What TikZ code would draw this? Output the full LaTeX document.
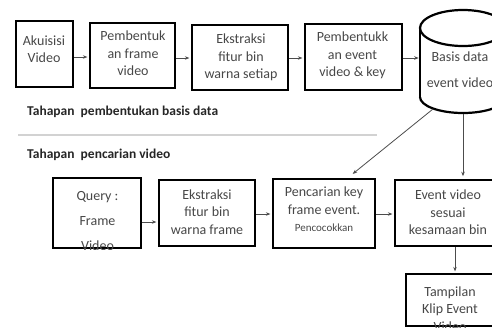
\documentclass[tikz,border=0pt]{standalone}
\usepackage{fontspec}
\setmainfont{Carlito}
\usetikzlibrary{arrows.meta}
\newcommand{\smalltxt}{\fontsize{11}{13}\selectfont}
\begin{document}
\begin{tikzpicture}[x=1pt,y=-1pt,
  box/.style={draw=black, line width=2.6pt, inner sep=0pt},
  txt/.style={text=black!72, font=\fontsize{14}{17.5}\selectfont, align=center, inner sep=0pt},
  arr/.style={draw=black!70, line width=0.8pt, -{Stealth[length=4.5pt,width=3.5pt]}, shorten >=1.3pt},
  lab/.style={font=\bfseries\fontsize{13.5}{16}\selectfont, text=black!85, anchor=west, inner sep=0pt},
  cyl/.style={draw=black, line width=2.2pt}]
\useasboundingbox (0,0) rectangle (492,327);
\clip (0,0) rectangle (492,327);

% top row boxes
\node[box, minimum width=57pt, minimum height=66pt] (a1) at (44.5,54) {};
\node[box, minimum width=85pt, minimum height=65pt] (a2) at (132.5,55.5) {};
\node[box, minimum width=96pt, minimum height=65pt] (a3) at (240,57.5) {};
\node[box, minimum width=97pt, minimum height=66pt] (a4) at (353.5,57) {};
\node[txt] (ta1) at (44,49) {Akuisisi\\Video};
\node[txt] (ta2) at (133,53.5) {Pembentuk\\an frame\\video};
\node[txt] (ta3) at (241,57.5) {Ekstraksi\\fitur bin\\warna setiap};
\node[txt] (ta4) at (352.5,55.5) {Pembentukk\\an event\\video \& key};

% database cylinder
\draw[cyl] (463,28) ellipse [x radius=43, y radius=18];
\draw[cyl] (420,28) -- (420,97);
\draw[cyl] (506,28) -- (506,97);
\begin{scope}
  \clip (410,97) rectangle (515,125);
  \draw[cyl] (463,97) ellipse [x radius=43, y radius=16];
\end{scope}
\node[txt] (db) at (460,70) {Basis data\\[8.5pt]event video};
\coordinate (dbW) at (420,58);
\coordinate (dbL) at (433,109);
\coordinate (dbB) at (463,114);

% top arrows
\draw[arr] (a1.east |- 0,57) -- (a2.west |- 0,57);
\draw[arr] (a2.east |- 0,58) -- (a3.west |- 0,58);
\draw[arr] (a3.east |- 0,58) -- (a4.west |- 0,58);
\draw[arr] (a4.east |- 0,58) -- (dbW);

% labels and separator
\node[lab] (l1) at (27,112) {Tahapan\ \ pembentukan basis data};
\draw[gray!35, line width=1.5pt] (18,135) -- (377,135);
\node[lab] (l2) at (27,155) {Tahapan\ \ pencarian video};

% bottom row boxes
\node[box, minimum width=88pt, minimum height=70pt] (b1) at (97,213) {};
\node[box, minimum width=96pt, minimum height=66pt] (b2) at (207,213) {};
\node[box, minimum width=102pt, minimum height=69pt] (b3) at (324,213.5) {};
\node[box, minimum width=106pt, minimum height=66pt] (b4) at (448,213) {};
\node[box, minimum width=90pt, minimum height=52pt] (b5) at (451,300) {};

\begin{scope}
  \clip (b1.south west) rectangle (b1.north east);
  \node[txt] (tb1) at (97.5,221) {Query :\\[7.5pt]Frame\\[7.5pt]Video};
\end{scope}
\node[txt] (tb2) at (207,212) {Ekstraksi\\fitur bin\\warna frame};
\node[txt] (tb3) at (324,209.5) {Pencarian key\\frame event.\\{\smalltxt Pencocokkan}};
\node[txt] (tb4) at (448,212.5) {Event video\\sesuai\\kesamaan bin};
\begin{scope}
  \clip (b5.south west) rectangle (b5.north east);
  \node[txt] (tb5) at (450,309) {Tampilan\\Klip Event\\Video};
\end{scope}

% bottom arrows
\draw[arr] (b1.east |- 0,222) -- (b2.west |- 0,222);
\draw[arr] (b2.east |- 0,214) -- (b3.west |- 0,214);
\draw[arr] (b3.east |- 0,214) -- (b4.west |- 0,214);
\draw[arr, shorten >=6pt] (dbL) -- (b3.north -| 348,0);
\draw[arr, shorten >=2.5pt] (dbB) -- (b4.north -| dbB);
\draw[arr] (b4.south -| 455,0) -- (b5.north -| 455,0);
\end{tikzpicture}
\end{document}
